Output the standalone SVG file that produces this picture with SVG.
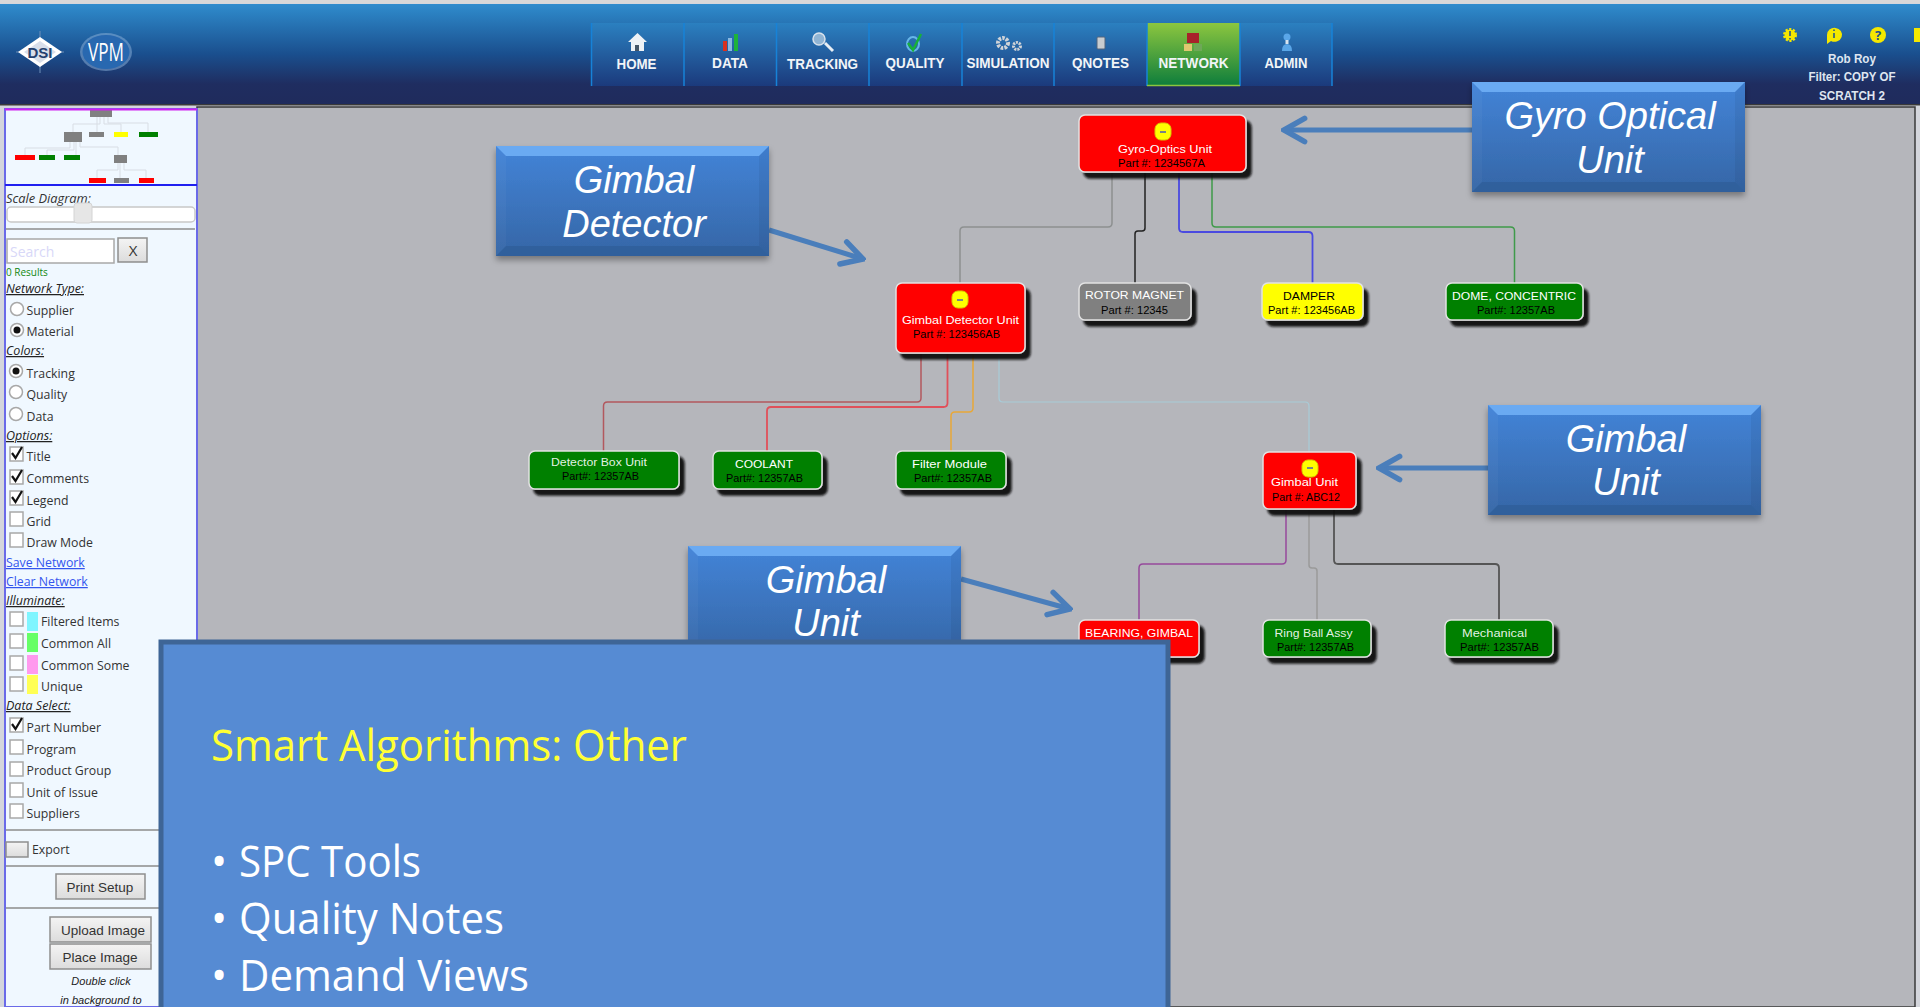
<svg xmlns="http://www.w3.org/2000/svg" width="1920" height="1007" viewBox="0 0 1920 1007">
<defs>
<linearGradient id="hdr" x1="0" y1="0" x2="0" y2="1"><stop offset="0" stop-color="#2f8ccd"/><stop offset="0.5" stop-color="#1a4f8e"/><stop offset="0.8" stop-color="#1f2d60"/><stop offset="1" stop-color="#1f2b5c"/></linearGradient>
<linearGradient id="nav" x1="0" y1="0" x2="0" y2="1"><stop offset="0" stop-color="#2b80c0"/><stop offset="1" stop-color="#1b3a7c"/></linearGradient>
<linearGradient id="navOn" x1="0" y1="0" x2="0" y2="1"><stop offset="0" stop-color="#8cc63f"/><stop offset="1" stop-color="#0d7d3c"/></linearGradient>
<linearGradient id="call" x1="0" y1="0" x2="0" y2="1"><stop offset="0" stop-color="#4384d8"/><stop offset="1" stop-color="#3566a6"/></linearGradient>
<linearGradient id="btn" x1="0" y1="0" x2="0" y2="1"><stop offset="0" stop-color="#f4f4f4"/><stop offset="1" stop-color="#dcdcdc"/></linearGradient>
<filter id="cs" x="-10%" y="-10%" width="120%" height="125%"><feDropShadow dx="0" dy="4" stdDeviation="3" flood-color="#000" flood-opacity="0.35"/></filter>
<filter id="ns" x="-10%" y="-10%" width="125%" height="135%"><feDropShadow dx="5" dy="6" stdDeviation="1.200" flood-color="#111" flood-opacity="0.95"/></filter>
<marker id="vee" viewBox="0 0 10 10" refX="9" refY="5" markerWidth="5.500" markerHeight="6" orient="auto" markerUnits="strokeWidth"><path d="M1.500 0.800L9 5L1.500 9.200" fill="none" stroke="#4a7ebb" stroke-width="2" stroke-linecap="round"/></marker>
</defs>
<style>
text{font-family:"Open Sans","Liberation Sans",sans-serif}
.nv{font-family:"Liberation Sans",sans-serif;font-weight:bold;font-size:15px;fill:#f2f5f8;text-anchor:middle}
.us{font-family:"Liberation Sans",sans-serif;font-weight:bold;font-size:12px;fill:#dfe6f0;text-anchor:middle}
.sb{font-size:12.300px;fill:#333}
.sh{font-size:12.500px;fill:#222;font-style:italic;text-decoration:underline}
.lnk{font-size:12.300px;fill:#3355ee;text-decoration:underline}
.bt{font-family:"Liberation Sans",sans-serif;font-size:13.500px;fill:#333;text-anchor:middle}
.bx{fill:#fff;stroke:#a8a8a8;stroke-width:1.500}
.btn{fill:url(#btn);stroke:#8e8e8e;stroke-width:1.500}
.ck{fill:none;stroke:#111;stroke-width:2.200}
.hr{stroke:#8c8c8c;stroke-width:1.500}
.node{stroke:#e2e2e2;stroke-width:1.500;filter:url(#ns)}
.t{font-family:"Liberation Sans",sans-serif;font-size:11.500px;fill:#fff}
.p{font-family:"Liberation Sans",sans-serif;font-size:11.500px;fill:#000}
.mi{fill:#ffff00;stroke:#d8c800;stroke-width:1}
.md{stroke:#5566aa;stroke-width:1.600}
.cn{fill:none;stroke-linejoin:round}
.ct{font-family:"Liberation Sans",sans-serif;font-style:italic;font-size:38px;fill:#fff;text-anchor:middle}
.ca{stroke:#4a7ebb;stroke-width:5;fill:none;marker-end:url(#vee)}
.bl{font-size:43px;fill:#fff}
.bvT{fill:#6aaaf2}
.bvB{fill:#2f5d98;fill-opacity:0.75}
.bvL{fill:#fff;fill-opacity:0.03}
.bvR{fill:#000;fill-opacity:0.05}
</style>

<rect width="1920" height="1007" fill="#d4d6dc"/>
<g id="canvas"><rect x="197" y="107" width="1718" height="900" fill="#b5b6bb" stroke="#3a3a3a" stroke-width="1.500"/></g>

<g id="header">
<rect x="0" y="0" width="1920" height="3" fill="#d8d8d8"/>
<rect x="0" y="4" width="1920" height="100" fill="url(#hdr)"/>
<rect x="0" y="104" width="1920" height="1.500" fill="#3a3a3a"/>
<g id="logo-dsi"><path d="M40 31V73M16 52H64" stroke="#6f8fb8" stroke-width="1"/><path d="M40 37L62 52L40 67L18 52Z" fill="#fff"/><path d="M40 41L56 52L40 63L24 52Z" fill="#d8deea"/><text x="40" y="58" font-size="15" font-weight="bold" text-anchor="middle" style="font-family:'Liberation Sans',sans-serif" fill="#24406f">DSI</text></g>
<g id="logo-vpm"><ellipse cx="106" cy="52" rx="26" ry="19" fill="#8fb4dc" opacity="0.5"/><ellipse cx="106" cy="52" rx="23.500" ry="17" fill="#2868b0"/><text x="106" y="61" font-size="26" text-anchor="middle" fill="#fff" textLength="36" lengthAdjust="spacingAndGlyphs">VPM</text></g>
<g id="nav-items">
<rect x="591" y="23" width="741" height="63" fill="url(#nav)"/>
<rect x="1147" y="23" width="93" height="63" fill="url(#navOn)"/>
<path d="M591.500 23V86M684 23V86M776.500 23V86M869 23V86M962 23V86M1054 23V86M1147 23V86M1240 23V86M1332 23V86" stroke="#1782d8" stroke-width="1.500"/>
<path d="M1147 85.500H1240" stroke="#8cc63f" stroke-width="1.500"/>
<g id="nav-home"><path d="M628 42L637.500 33L647 42H644V51H631V42Z" fill="#eef2f6"/><rect x="635" y="45" width="4" height="6" fill="#456"/><text class="nv" x="636.500" y="69" textLength="40" lengthAdjust="spacingAndGlyphs">HOME</text></g>
<g id="nav-data"><rect x="723" y="41" width="4" height="10" fill="#d8301f"/><rect x="728" y="38" width="4" height="13" fill="#8ab8e0"/><rect x="734" y="34" width="4" height="17" fill="#1db33a"/><text class="nv" x="730" y="68" textLength="36" lengthAdjust="spacingAndGlyphs">DATA</text></g>
<g id="nav-tracking"><path d="M825 43L833 51" stroke="#e8eef4" stroke-width="3"/><ellipse cx="819" cy="39" rx="6" ry="6" fill="#8fb4d4" stroke="#d8e2ec" stroke-width="1.500"/><text class="nv" x="822.600" y="69" textLength="71" lengthAdjust="spacingAndGlyphs">TRACKING</text></g>
<g id="nav-quality"><ellipse cx="913" cy="44" rx="6" ry="7" fill="none" stroke="#66b6e8" stroke-width="2"/><path d="M908 43L913 50L921 34" fill="none" stroke="#18b03a" stroke-width="2.500"/><text class="nv" x="915" y="68" textLength="59" lengthAdjust="spacingAndGlyphs">QUALITY</text></g>
<g id="nav-simulation"><circle cx="1003" cy="43" r="5" fill="none" stroke="#d0d4d8" stroke-width="4" stroke-dasharray="2.500 1.200"/><circle cx="1017" cy="46" r="3.500" fill="none" stroke="#d0d4d8" stroke-width="3" stroke-dasharray="2 1"/><text class="nv" x="1008" y="68" textLength="83" lengthAdjust="spacingAndGlyphs">SIMULATION</text></g>
<g id="nav-qnotes"><rect x="1097" y="37" width="8" height="12" rx="1" fill="#c8ccd0" stroke="#53657c"/><text class="nv" x="1100.600" y="68" textLength="57" lengthAdjust="spacingAndGlyphs">QNOTES</text></g>
<g id="nav-network"><rect x="1187" y="33" width="12" height="10" fill="#a8222a"/><rect x="1184" y="44" width="8" height="7" fill="#e0c870"/><rect x="1194" y="44" width="8" height="7" fill="#6ea858"/><text class="nv" x="1193.500" y="68" textLength="70" lengthAdjust="spacingAndGlyphs">NETWORK</text></g>
<g id="nav-admin"><circle cx="1287" cy="37" r="3.500" fill="#5aa6e8"/><rect x="1285.500" y="40" width="3" height="4" fill="#d8e4f0"/><path d="M1282 51Q1282 44 1287 44Q1292 44 1292 51Z" fill="#5aa6e8"/><text class="nv" x="1286" y="68" textLength="43" lengthAdjust="spacingAndGlyphs">ADMIN</text></g>
</g>
<g id="user-area">
<circle cx="1790" cy="35" r="5.500" fill="#f5e800" stroke="#f5e800" stroke-width="3" stroke-dasharray="2 1.500"/><path d="M1790 31V36M1790 38V39.500" stroke="#1a4f8e" stroke-width="1.500"/>
<path d="M1827 35a7.500 7 0 1 1 4 6l-4 3z" fill="#f5e800"/><path d="M1834 33V38M1834 29.500V31" stroke="#1a4f8e" stroke-width="1.500"/>
<circle cx="1878" cy="35" r="8" fill="#f5e800"/><text x="1878" y="40" font-size="13" font-weight="bold" text-anchor="middle" fill="#1a4f8e">?</text>
<rect x="1914" y="28" width="6" height="14" fill="#f5e800"/>
<text class="us" x="1852" y="63" textLength="48" lengthAdjust="spacingAndGlyphs">Rob Roy</text>
<text class="us" x="1852" y="81" textLength="87" lengthAdjust="spacingAndGlyphs">Filter: COPY OF</text>
<text class="us" x="1852" y="100" textLength="66" lengthAdjust="spacingAndGlyphs">SCRATCH 2</text>
</g>
</g>

<g id="sidebar">
<rect x="5" y="109" width="192" height="898" fill="#f0f8ff" stroke="#6a6ae8" stroke-width="2"/>
<g id="thumbnail">
<path d="M100 117V124H73V132M97 117V132M104 117V124H121V132M108 117V123H148V132M70 142V148H25V155M74 142V150H47V155M76 142V155M80 142V147H118V155M118 163V170H97V178M120 163V178M124 163V170H146V178" fill="none" stroke="#d8dde4" stroke-width="1"/>
<rect x="90" y="109" width="22" height="8" fill="#808080"/>
<rect x="64" y="132" width="18" height="10" fill="#808080"/>
<rect x="89" y="132" width="15" height="5" fill="#808080"/>
<rect x="114" y="132" width="14" height="5" fill="#ffff00"/>
<rect x="139" y="132" width="19" height="5" fill="#008000"/>
<rect x="15" y="155" width="20" height="5" fill="#ff0000"/>
<rect x="39" y="155" width="16" height="5" fill="#008000"/>
<rect x="64" y="155" width="16" height="5" fill="#008000"/>
<rect x="114" y="155" width="13" height="8" fill="#808080"/>
<rect x="89" y="178" width="17" height="5" fill="#ff0000"/>
<rect x="114" y="178" width="15" height="5" fill="#808080"/>
<rect x="139" y="178" width="15" height="5" fill="#ff0000"/>
<path d="M5 109.500H197" stroke="#d020f0" stroke-width="2"/>
<path d="M5 185H197" stroke="#2020f0" stroke-width="2"/>
</g>
<text class="sb" x="6" y="203" font-style="italic" textLength="85" lengthAdjust="spacingAndGlyphs">Scale Diagram:</text>
<rect x="7" y="207" width="188" height="15" rx="4" fill="#fff" stroke="#c8c8c8" stroke-width="1.500"/>
<rect x="74" y="203" width="18" height="20" rx="3" fill="#e6e6e6" stroke="#d4d4d4"/>
<path class="hr" d="M6 229H195"/>
<rect class="bx" x="7" y="239" width="107" height="24" stroke-width="2"/>
<text x="10" y="257" font-size="14" fill="#d8d8f8">Search</text>
<rect class="btn" x="118" y="238" width="29" height="24"/>
<text x="133" y="256" font-size="15" text-anchor="middle" fill="#333">X</text>
<text x="6" y="276" font-size="10" fill="#118811">0 Results</text>
<text class="sh" x="6" y="293">Network Type:</text>
<circle class="bx" cx="17" cy="309" r="6.500"/><text class="sb" x="26.500" y="315">Supplier</text>
<circle class="bx" cx="17" cy="330" r="6.500"/><circle cx="17" cy="330" r="3.500" fill="#111"/><text class="sb" x="26.500" y="336">Material</text>
<text class="sh" x="6" y="355">Colors:</text>
<circle class="bx" cx="16" cy="371" r="6.500"/><circle cx="16" cy="371" r="3.500" fill="#111"/><text class="sb" x="26.500" y="378">Tracking</text>
<circle class="bx" cx="16" cy="392" r="6.500"/><text class="sb" x="26.500" y="399">Quality</text>
<circle class="bx" cx="16" cy="414" r="6.500"/><text class="sb" x="26.500" y="421">Data</text>
<text class="sh" x="6" y="440">Options:</text>
<rect class="bx" x="10" y="447" width="13" height="14"/><path class="ck" d="M12 453L15.500 458L22 447"/><text class="sb" x="26.500" y="461">Title</text>
<rect class="bx" x="10" y="470" width="13" height="14"/><path class="ck" d="M12 476L15.500 481L22 470"/><text class="sb" x="26.500" y="483">Comments</text>
<rect class="bx" x="10" y="491" width="13" height="14"/><path class="ck" d="M12 497L15.500 502L22 491"/><text class="sb" x="26.500" y="505">Legend</text>
<rect class="bx" x="10" y="512" width="13" height="14"/><text class="sb" x="26.500" y="526">Grid</text>
<rect class="bx" x="10" y="533" width="13" height="14"/><text class="sb" x="26.500" y="547">Draw Mode</text>
<text class="lnk" x="6" y="567">Save Network</text>
<text class="lnk" x="6" y="586">Clear Network</text>
<text class="sh" x="6" y="605">Illuminate:</text>
<rect class="bx" x="10" y="612" width="13" height="14"/><rect x="27" y="612" width="11" height="19" fill="#7ff5ff"/><text class="sb" x="41" y="626">Filtered Items</text>
<rect class="bx" x="10" y="634" width="13" height="14"/><rect x="27" y="633" width="11" height="19" fill="#66ff66"/><text class="sb" x="41" y="648">Common All</text>
<rect class="bx" x="10" y="656" width="13" height="14"/><rect x="27" y="655" width="11" height="19" fill="#ff99ee"/><text class="sb" x="41" y="670">Common Some</text>
<rect class="bx" x="10" y="677" width="13" height="14"/><rect x="27" y="675" width="11" height="19" fill="#ffff55"/><text class="sb" x="41" y="691">Unique</text>
<text class="sh" x="6" y="710">Data Select:</text>
<rect class="bx" x="10" y="718" width="13" height="14"/><path class="ck" d="M12 724L15.500 729L22 718"/><text class="sb" x="26.500" y="732">Part Number</text>
<rect class="bx" x="10" y="740" width="13" height="14"/><text class="sb" x="26.500" y="754">Program</text>
<rect class="bx" x="10" y="762" width="13" height="14"/><text class="sb" x="26.500" y="775">Product Group</text>
<rect class="bx" x="10" y="783" width="13" height="14"/><text class="sb" x="26.500" y="797">Unit of Issue</text>
<rect class="bx" x="10" y="804" width="13" height="14"/><text class="sb" x="26.500" y="818">Suppliers</text>
<path class="hr" d="M6 830H195M6 866H195M6 908H195"/>
<rect class="btn" x="6" y="842" width="22" height="15"/><text class="sb" x="32" y="854">Export</text>
<rect class="btn" x="56" y="874" width="89" height="25"/><text class="bt" x="100" y="892">Print Setup</text>
<rect class="btn" x="50" y="917" width="101" height="25"/><text class="bt" x="103" y="935">Upload Image</text>
<rect class="btn" x="50" y="944" width="101" height="25"/><text class="bt" x="100" y="962">Place Image</text>
<text x="101" y="985" font-size="11" font-style="italic" text-anchor="middle" fill="#222" style="font-family:'Liberation Sans',sans-serif">Double click</text>
<text x="101" y="1004" font-size="11" font-style="italic" text-anchor="middle" fill="#222" style="font-family:'Liberation Sans',sans-serif">in background to</text>
</g>

<g id="connectors">
<path class="cn" d="M1112 172V223q0 4-4 4H964q-4 0-4 4V283" stroke="#8d9090" stroke-width="1.500"/>
<path class="cn" d="M1145 172V228q0 3-3 3H1138q-3 0-3 3V283" stroke="#222" stroke-width="1.500"/>
<path class="cn" d="M1179 172V228q0 4 4 4H1308.500q4 0 4 4V283" stroke="#4a4ae0" stroke-width="1.800"/>
<path class="cn" d="M1212 172V223q0 4 4 4H1510.500q4 0 4 4V283" stroke="#3f9a4a" stroke-width="1.500"/>
<path class="cn" d="M921 353V398q0 4-4 4H607.500q-4 0-4 4V451" stroke="#b2585e" stroke-width="1.500"/>
<path class="cn" d="M947.500 353V403q0 4-4 4H771q-4 0-4 4V451" stroke="#e0505a" stroke-width="1.800"/>
<path class="cn" d="M973 353V408q0 4-4 4H955q-4 0-4 4V451" stroke="#e8a838" stroke-width="1.500"/>
<path class="cn" d="M999 353V398q0 4 4 4H1305q4 0 4 4V452" stroke="#a8ccd8" stroke-width="1.200"/>
<path class="cn" d="M1286 509V560q0 4-4 4H1143q-4 0-4 4V620" stroke="#964a9c" stroke-width="1.500"/>
<path class="cn" d="M1309 509V565q0 3 3 3H1314q3 0 3 3V620" stroke="#9a9a9a" stroke-width="1.500"/>
<path class="cn" d="M1334 509V560q0 4 4 4H1495q4 0 4 4V620" stroke="#555" stroke-width="1.800"/>
</g>

<g id="nodes">
<g id="node-gyro"><rect class="node" x="1079" y="115" width="167" height="57" rx="6" fill="#ff0000"/><rect class="mi" x="1155" y="123" width="16" height="17" rx="6"/><path class="md" d="M1160 132H1166"/><text class="t" x="1118" y="152.500" textLength="94" lengthAdjust="spacingAndGlyphs">Gyro-Optics Unit</text><text class="p" x="1118" y="166.500" textLength="87" lengthAdjust="spacingAndGlyphs">Part #: 1234567A</text></g>
<g id="node-gimbal-detector"><rect class="node" x="896" y="283" width="129" height="70" rx="6" fill="#ff0000"/><rect class="mi" x="952" y="291" width="16" height="17" rx="6"/><path class="md" d="M957 300H963"/><text class="t" x="902" y="323.500" textLength="117" lengthAdjust="spacingAndGlyphs">Gimbal Detector Unit</text><text class="p" x="913" y="337.500" textLength="87" lengthAdjust="spacingAndGlyphs">Part #: 123456AB</text></g>
<g id="node-rotor"><rect class="node" x="1079" y="283" width="112" height="37" rx="6" fill="#808080"/><text class="t" x="1085" y="299" textLength="99" lengthAdjust="spacingAndGlyphs">ROTOR MAGNET</text><text class="p" x="1101" y="314" textLength="67" lengthAdjust="spacingAndGlyphs">Part #: 12345</text></g>
<g id="node-damper"><rect class="node" x="1262" y="283" width="101" height="37" rx="6" fill="#ffff00"/><text class="p" x="1283" y="299.500" textLength="52" lengthAdjust="spacingAndGlyphs">DAMPER</text><text class="p" x="1268" y="313.500" textLength="87" lengthAdjust="spacingAndGlyphs">Part #: 123456AB</text></g>
<g id="node-dome"><rect class="node" x="1446" y="283" width="137" height="37" rx="6" fill="#008000"/><text class="t" x="1452" y="300" textLength="124" lengthAdjust="spacingAndGlyphs">DOME, CONCENTRIC</text><text class="p" x="1477" y="314" textLength="78" lengthAdjust="spacingAndGlyphs">Part#: 12357AB</text></g>
<g id="node-detector-box"><rect class="node" x="529" y="451" width="150" height="38" rx="6" fill="#008000"/><text class="t" x="551" y="465.500" fill-opacity="0.9" textLength="96" lengthAdjust="spacingAndGlyphs">Detector Box Unit</text><text class="p" x="562" y="479.500" textLength="77" lengthAdjust="spacingAndGlyphs">Part#: 12357AB</text></g>
<g id="node-coolant"><rect class="node" x="713" y="451" width="109" height="38" rx="6" fill="#008000"/><text class="t" x="735" y="467.500" textLength="58" lengthAdjust="spacingAndGlyphs">COOLANT</text><text class="p" x="726" y="481.500" textLength="77" lengthAdjust="spacingAndGlyphs">Part#: 12357AB</text></g>
<g id="node-filter"><rect class="node" x="896" y="451" width="110" height="38" rx="6" fill="#008000"/><text class="t" x="912" y="468" textLength="75" lengthAdjust="spacingAndGlyphs">Filter Module</text><text class="p" x="914" y="482" textLength="78" lengthAdjust="spacingAndGlyphs">Part#: 12357AB</text></g>
<g id="node-gimbal-unit"><rect class="node" x="1263" y="452" width="93" height="57" rx="6" fill="#ff0000"/><text class="t" x="1271" y="486" textLength="67" lengthAdjust="spacingAndGlyphs">Gimbal Unit</text><rect class="mi" x="1302" y="460" width="16" height="17" rx="6"/><path class="md" d="M1307 468H1313"/><text class="p" x="1272" y="501" textLength="68" lengthAdjust="spacingAndGlyphs">Part #: ABC12</text></g>
<g id="node-bearing"><rect class="node" x="1079" y="620" width="120" height="37" rx="6" fill="#ff0000"/><text class="t" x="1085" y="637" textLength="108" lengthAdjust="spacingAndGlyphs">BEARING, GIMBAL</text></g>
<g id="node-ring"><rect class="node" x="1263" y="620" width="108" height="37" rx="6" fill="#008000"/><text class="t" x="1274.500" y="637" fill-opacity="0.9" textLength="78" lengthAdjust="spacingAndGlyphs">Ring Ball Assy</text><text class="p" x="1277" y="651" textLength="77" lengthAdjust="spacingAndGlyphs">Part#: 12357AB</text></g>
<g id="node-mechanical"><rect class="node" x="1445" y="620" width="108" height="37" rx="6" fill="#008000"/><text class="t" x="1462" y="637" fill-opacity="0.9" textLength="65" lengthAdjust="spacingAndGlyphs">Mechanical</text><text class="p" x="1460" y="651" textLength="79" lengthAdjust="spacingAndGlyphs">Part#: 12357AB</text></g>
</g>

<g id="callouts">
<g id="arrows">
<path class="ca" d="M769 230L863 259"/>
<path class="ca" d="M1472 130H1284"/>
<path class="ca" d="M1488 468H1379"/>
<path class="ca" d="M961 579L1070 609"/>
</g>
<g id="callout-gyro"><rect x="1472" y="82" width="273" height="110" fill="url(#call)" filter="url(#cs)"/><path class="bvT" d="M1472 82H1745L1735 92H1482Z"/><path class="bvB" d="M1472 192H1745L1735 182H1482Z"/><path class="bvL" d="M1472 82V192L1482 182V92Z"/><path class="bvR" d="M1745 82V192L1735 182V92Z"/><text class="ct" x="1610" y="129">Gyro Optical</text><text class="ct" x="1610" y="173">Unit</text></g>
<g id="callout-detector"><rect x="496" y="146" width="273" height="110" fill="url(#call)" filter="url(#cs)"/><path class="bvT" d="M496 146H769L759 156H506Z"/><path class="bvB" d="M496 256H769L759 246H506Z"/><path class="bvL" d="M496 146V256L506 246V156Z"/><path class="bvR" d="M769 146V256L759 246V156Z"/><text class="ct" x="634" y="193">Gimbal</text><text class="ct" x="634" y="237">Detector</text></g>
<g id="callout-gimbal-right"><rect x="1488" y="405" width="273" height="110" fill="url(#call)" filter="url(#cs)"/><path class="bvT" d="M1488 405H1761L1751 415H1498Z"/><path class="bvB" d="M1488 515H1761L1751 505H1498Z"/><path class="bvL" d="M1488 405V515L1498 505V415Z"/><path class="bvR" d="M1761 405V515L1751 505V415Z"/><text class="ct" x="1626" y="452">Gimbal</text><text class="ct" x="1626" y="495">Unit</text></g>
<g id="callout-gimbal-lower"><rect x="688" y="546" width="273" height="110" fill="url(#call)" filter="url(#cs)"/><path class="bvT" d="M688 546H961L951 556H698Z"/><path class="bvL" d="M688 546V656L698 646V556Z"/><path class="bvR" d="M961 546V656L951 646V556Z"/><text class="ct" x="826" y="593">Gimbal</text><text class="ct" x="826" y="636">Unit</text></g>
</g>

<g id="text-panel">
<rect x="161" y="642" width="1007" height="370" fill="#568bd3" stroke="#3e6596" stroke-width="5"/>
<text x="211" y="761" font-size="43" fill="#ffff33" textLength="476" lengthAdjust="spacingAndGlyphs">Smart Algorithms: Other</text>
<text class="bl" x="211" y="877">•</text><text class="bl" x="239" y="877" textLength="182" lengthAdjust="spacingAndGlyphs">SPC Tools</text>
<text class="bl" x="211" y="934">•</text><text class="bl" x="239" y="934" textLength="265" lengthAdjust="spacingAndGlyphs">Quality Notes</text>
<text class="bl" x="211" y="991">•</text><text class="bl" x="239" y="991" textLength="290" lengthAdjust="spacingAndGlyphs">Demand Views</text>
</g>
</svg>
